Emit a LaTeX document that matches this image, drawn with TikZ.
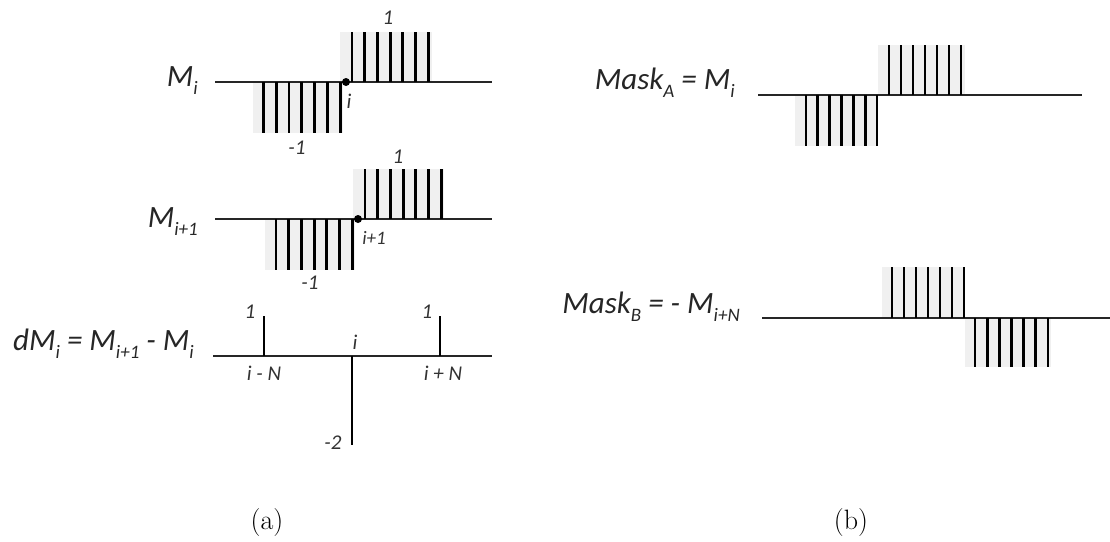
\documentclass[tikz,border=0pt]{standalone}
\usepackage{fontspec}
\newfontfamily\lbl{Carlito}
\newcommand\lsub[1]{\raisebox{-0.28em}{\fontsize{19}{19}\selectfont #1}}
\tikzset{
  axisline/.style={line width=1.5pt, black!85},
  bar/.style={line width=2.8pt, black},
  greybox/.style={fill=black!6, draw=none},
  biglbl/.style={font=\lbl\itshape\fontsize{31}{34}\selectfont, inner sep=0pt, text=black!85},
  smalllbl/.style={font=\lbl\itshape\fontsize{21}{23}\selectfont, inner sep=0pt, text=black!80},
  tinylbl/.style={font=\lbl\itshape\fontsize{19}{21}\selectfont, inner sep=0pt, text=black!80},
  caption/.style={font=\fontsize{28}{32}\selectfont, inner sep=0pt},
  dotmark/.style={fill=black, circle, inner sep=0pt, minimum size=8pt}
}
\begin{document}
\begin{tikzpicture}[x=1pt,y=-1pt]
\useasboundingbox (0,0) rectangle (1110,541);

% ---------- Row 1: M_i ----------
\fill[greybox] (253,82) rectangle (343,133);
\fill[greybox] (340,32) rectangle (432,82);
\coordinate (a1l) at (215,82); \coordinate (a1r) at (492,82);
\draw[axisline] (a1l) -- (a1r);
\foreach \k in {0,...,6} {\draw[bar] ({263.3+12.8*\k},82) -- ({263.3+12.8*\k},133);}
\foreach \k in {0,...,6} {\draw[bar] ({352+12.7*\k},32) -- ({352+12.7*\k},82);}
\node[dotmark] (d1) at (346,82) {};
\node[biglbl, anchor=base east] (l1) at (198,86) {M\lsub{i}};
\node[smalllbl] (t1a) at (388,18) {1};
\node[smalllbl] (t1b) at (297,148) {-1};
\node[smalllbl] (t1c) at (349,101) {i};

% ---------- Row 2: M_{i+1} ----------
\fill[greybox] (265,219) rectangle (355,270);
\fill[greybox] (353,169) rectangle (444,219);
\coordinate (a2l) at (215,219); \coordinate (a2r) at (492,219);
\draw[axisline] (a2l) -- (a2r);
\foreach \k in {0,...,6} {\draw[bar] ({276+12.7*\k},219) -- ({276+12.7*\k},270);}
\foreach \k in {0,...,6} {\draw[bar] ({365+12.7*\k},169) -- ({365+12.7*\k},219);}
\node[dotmark] (d2) at (358,219) {};
\node[biglbl, anchor=base east] (l2) at (198,227) {M\lsub{i+1}};
\node[smalllbl] (t2a) at (398,157) {1};
\node[smalllbl] (t2b) at (310,283) {-1};
\node[tinylbl] (t2c) at (374,238) {i+1};

% ---------- Row 3: dM_i ----------
\coordinate (a3l) at (213,356); \coordinate (a3r) at (492,356);
\draw[axisline] (a3l) -- (a3r);
\coordinate (s1b) at (264,356); \coordinate (s1t) at (264,316);
\coordinate (s2b) at (352,356); \coordinate (s2t) at (352,445);
\coordinate (s3b) at (440,356); \coordinate (s3t) at (440,316);
\draw[bar] (s1b) -- (s1t);
\draw[bar] (s2b) -- (s2t);
\draw[bar] (s3b) -- (s3t);
\node[biglbl, anchor=base east] (l3) at (194,350) {dM\lsub{i} = M\lsub{i+1} - M\lsub{i}};
\node[smalllbl] (t3a) at (250,312) {1};
\node[smalllbl] (t3b) at (427,312) {1};
\node[smalllbl] (t3c) at (264,373) {i - N};
\node[smalllbl] (t3d) at (355,342) {i};
\node[smalllbl] (t3e) at (443,373) {i + N};
\node[smalllbl] (t3f) at (333,443) {-2};

% ---------- Mask A ----------
\fill[greybox] (795,95) rectangle (878,146);
\fill[greybox] (878,45) rectangle (965,95);
\coordinate (mAl) at (758,95); \coordinate (mAr) at (1082,95);
\draw[axisline] (mAl) -- (mAr);
\foreach \k in {0,...,6} {\draw[bar] ({806+11.83*\k},95) -- ({806+11.83*\k},146);}
\foreach \k in {0,...,6} {\draw[bar] ({889+12*\k},45) -- ({889+12*\k},95);}
\node[biglbl, anchor=base east] (lA) at (735,89) {Mask\lsub{A} = M\lsub{i}};

% ---------- Mask B ----------
\fill[greybox] (882,267) rectangle (965,318);
\fill[greybox] (965,318) rectangle (1051,367);
\coordinate (mBl) at (762,318); \coordinate (mBr) at (1110,318);
\draw[axisline] (mBl) -- (mBr);
\foreach \k in {0,...,6} {\draw[bar] ({892+12*\k},267) -- ({892+12*\k},318);}
\foreach \k in {0,...,6} {\draw[bar] ({975+12.17*\k},318) -- ({975+12.17*\k},367);}
\node[biglbl, anchor=base east] (lB) at (740,313) {Mask\lsub{B} = - M\lsub{i+N}};

% ---------- Captions ----------
\node[caption] (ca) at (267,523) {(a)};
\node[caption] (cb) at (851,523) {(b)};
\end{tikzpicture}
\end{document}
